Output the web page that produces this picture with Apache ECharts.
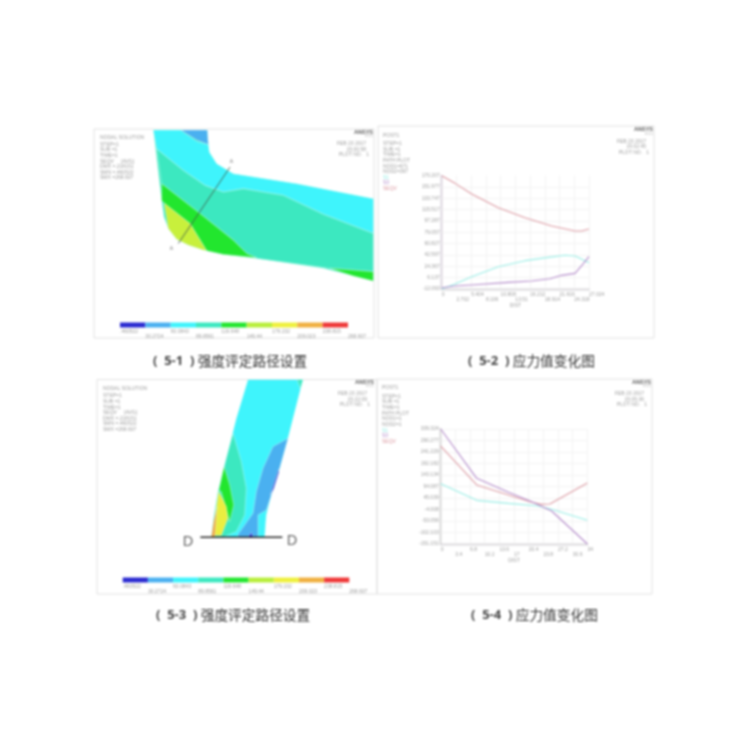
<!DOCTYPE html>
<html><head><meta charset="utf-8">
<style>html,body{margin:0;background:#fff}#c{width:750px;height:750px;filter:blur(0.85px)}</style>
<script src="https://cdn.jsdelivr.net/npm/echarts@6/dist/echarts.min.js"></script>
</head><body><div id="c"></div>
<script>
// ---------- colour scale ----------
const scaleColors = ['#2a2ad0','#4ab0f0','#3ff4fc','#3ce8c0','#22e62e','#b8ee3c','#eef03e','#f0b040','#ee3838'];
const scaleTicks = [0.460522,30.2724,60.0843,89.8561,119.648,149.44,179.232,209.023,238.815,268.607];
const scaleLabels = ['.460522','30.2724','60.0843','89.8561','119.648','149.44','179.232','209.023','238.815','268.607'];

// ---------- contour model 1 (model units) ----------
const m1Outline = [[190,28],[352,28],[355,72],[358,95],[380,130],[430,160],[620,190],[850,235],[850,483],[700,445],[500,415],[400,403],[340,390],[295,375],[260,357],[235,325],[222,290],[215,240]];
const m1Cyan = [[190,28],[272,28],[320,62],[355,72],[358,95],[380,130],[430,160],[620,190],[850,235],[850,340],[700,282],[580,225],[460,205],[400,215],[345,195],[280,150],[200,85]];
const m1Blue = [[272,28],[352,28],[355,72],[320,58]];
const m1Aqua = [[200,85],[280,150],[345,195],[400,215],[460,205],[580,225],[700,282],[850,340],[850,455],[720,445],[500,415],[470,400],[430,360],[330,280],[215,190]];
const m1Green = [[215,190],[330,280],[430,360],[470,400],[500,413],[400,403],[350,392],[300,310],[222,248],[215,240]];
const m1Green2 = [[720,445],[850,455],[850,483],[790,468]];
const m1Lime = [[222,248],[300,310],[350,392],[340,390],[295,375],[260,357],[235,325]];

// ---------- contour model 3 (model units) ----------
const m3Outline = [[475,14],[640,14],[595,190],[570,280],[545,360],[530,420],[525,487],[365,487],[372,430],[385,350],[410,250],[440,130]];
const m3Aqua = [[430,175],[455,260],[470,340],[465,420],[440,470],[400,487],[365,487],[372,430],[385,350],[410,250]];
const m3AquaTop = [[622,14],[640,14],[632,42]];
const m3Green = [[403,275],[420,330],[432,390],[420,440],[410,405],[395,350],[388,345]];
const m3Yellow = [[387,348],[410,395],[415,430],[395,482],[372,482],[378,410]];
const m3Orange = [[365,487],[372,440],[382,395],[378,450],[375,487]];
const m3Blue = [[595,190],[550,215],[520,280],[500,350],[490,415],[445,478],[445,487],[505,487],[505,420],[530,405],[545,360],[570,280]];
const m3DarkBlue = [[568,282],[555,320],[542,360],[552,342],[568,292]];
const m3DarkBlue2 = [[476,487],[485,472],[490,487]];

// ---------- path plot 5-2 ----------
const p2XTicks = [0,2.7024,5.4048,8.1072,10.8096,13.512,16.2144,18.9168,21.6192,24.3216,27.024];
const p2XLabels = ['0','2.702','5.404','8.106','10.808','13.51','16.212','18.914','21.616','24.318','27.024'];
const p2YTicks = [-12.093,6.137,24.367,42.597,60.827,79.057,97.287,115.517,133.747,151.977,170.207];
const p2Seqv = [[0,170.2],[2.45,157.9],[5.5,140.7],[10.39,118.7],[15.29,102.6],[20.18,89.2],[24.46,81.2],[25.68,81.2],[27.02,84.4]];
const p2S1 = [[0,-12.1],[2.45,-4],[5.5,7.7],[10.39,23.8],[15.29,33.5],[19.57,38.8],[22.62,42.1],[24.46,41],[25.99,34.5],[27.02,30.3]];
const p2S3 = [[0,-10],[2.45,-7.3],[6.11,-5.2],[12.23,-1.4],[16.5,0.8],[19.87,4.5],[22,9.9],[24.46,13.1],[25.68,25.4],[27.02,39.9]];

// ---------- path plot 5-4 ----------
const p4XTicks = [0,3.4,6.8,10.2,13.6,17,20.4,23.8,27.2,30.6,34];
const p4XLabels = ['0','3.4','6.8','10.2','13.6','17','20.4','23.8','27.2','30.6','34'];
const p4YTicks = [-151.151,-102.103,-53.056,-4.008,45.039,94.087,143.134,192.182,241.229,290.277,339.324];
const p4Seqv = [[0,266.8],[8.35,100.5],[15.7,57.9],[21.1,26.6],[23.4,17.9],[25.3,19.3],[34,108.9]];
const p4S1 = [[0,106.2],[8.35,35.1],[15.7,22.3],[22.6,10.9],[25.7,-3.2],[34,-50.2]];
const p4S3 = [[0,339.3],[8.35,129],[15.7,69.2],[21.1,29.4],[25.7,-10.4],[34,-151.15]];

// ---------- section line marks ----------
const lineAA = [[420,140],[265,370]];
const lineDD = [[332,487],[578,487]];

// ---------- texts ----------
const captions = ['5-1','5-2','5-3','5-4'];
const capTail = ['强度评定路径设置','应力值变化图','强度评定路径设置','应力值变化图'];
const infoContour = ['STEP=1','SUB =1','TIME=1','SEQV     (AVG)','DMX =.218151','SMN =.460522','SMX =268.607'];
const infoPath2 = ['STEP=1','SUB =1','TIME=1','PATH PLOT','NOD1=671','NOD2=397'];
const infoPath4 = ['STEP=1','SUB =1','TIME=1','PATH PLOT','NOD1=1','NOD2=1'];

const C = {cyan:'#9aeee6',purple:'#b48cca',red:'#dc9ca4',text:'#a0a0a0',frame:'#e2e2e2',grid:'#efefef'};
const FONT = 'Liberation Sans';

function polySeries(name, pts, color, g){
  return {type:'custom',name,xAxisIndex:g,yAxisIndex:g,silent:true,clip:true,
    data:[0],
    renderItem:(p,api)=>({type:'polygon',shape:{points:pts.map(q=>api.coord(q))},
      style:{fill:color,stroke:'rgba(235,255,250,.55)',lineWidth:.7}})};
}
function barSeries(g){
  return {type:'custom',xAxisIndex:g,yAxisIndex:g,silent:true,
    data:scaleColors.map((c,i)=>[scaleTicks[i],scaleTicks[i+1],i]),
    renderItem:(p,api)=>{
      const a=api.coord([api.value(0),1]),b=api.coord([api.value(1),0]);
      return {type:'rect',shape:{x:a[0],y:a[1],width:b[0]-a[0],height:b[1]-a[1]},style:{fill:scaleColors[api.value(2)]}};
    }};
}
function lineS(data,color,g,w,name){
  return {type:'line',name,xAxisIndex:g,yAxisIndex:g,data,symbol:'none',silent:true,
    lineStyle:{color,width:w},z:4};
}
function gridMarks(data,g,xT,yT){
  return {type:'line',xAxisIndex:g,yAxisIndex:g,data:[],symbol:'none',silent:true,z:1,
    markLine:{silent:true,symbol:'none',z:1,label:{show:false},animation:false,
      lineStyle:{color:C.grid,width:.7,type:'solid'},
      data:[...xT.map(v=>({xAxis:v})),...yT.map(v=>({yAxis:v}))]}};
}

const grids=[], xAxes=[], yAxes=[], series=[], xAxesExtra=[];
function contourGrid(b,xr,yr){
  grids.push({left:b[0],top:b[1],width:b[2],height:b[3],show:true,borderColor:C.frame,borderWidth:1,backgroundColor:'#fff'});
  xAxes.push({type:'value',min:xr[0],max:xr[1],show:false,gridIndex:grids.length-1});
  yAxes.push({type:'value',min:yr[0],max:yr[1],inverse:true,show:false,gridIndex:grids.length-1});
  return grids.length-1;
}
function colorbarGrid(b){
  grids.push({left:b[0],top:b[1],width:b[2],height:b[3]});
  const g=grids.length-1;
  xAxes.push({type:'value',gridIndex:g,min:scaleTicks[0],max:scaleTicks[9],
    axisLine:{show:false},axisTick:{show:false},splitLine:{show:false},
    axisLabel:{show:true,customValues:scaleTicks,align:'left',margin:2,fontSize:5,color:C.text,fontFamily:FONT,lineHeight:4.5,
      hideOverlap:false,showMinLabel:true,showMaxLabel:true,formatter:(v)=>{const i=scaleTicks.indexOf(v);return (i%2?'\n':'')+scaleLabels[i];}}});
  yAxes.push({type:'value',gridIndex:g,min:0,max:1,show:false});
  series.push(barSeries(g));
}
function plotGrid(b,xMax,xT,xL,yT,axisCol){
  grids.push({left:b[0],top:b[1],width:b[2],height:b[3]});
  const g=grids.length-1;
  const lab=(idxMod,margin)=>({show:true,customValues:xT.filter((v,i)=>i%2===idxMod),align:'left',margin,fontSize:5,color:C.text,fontFamily:FONT,
    hideOverlap:false,showMinLabel:true,showMaxLabel:true,formatter:(v)=>xL[xT.indexOf(v)]});
  xAxes.push({type:'value',gridIndex:g,position:'bottom',min:0,max:xMax,
    axisLine:{show:true,onZero:false,lineStyle:{color:'#b4b0b8',width:1.4}},axisTick:{show:false},splitLine:{show:false},
    axisLabel:lab(0,3),
    name:'DIST',nameLocation:'middle',nameGap:14,nameTextStyle:{fontSize:5,color:C.text,fontFamily:FONT}});
  xAxesExtra.push({type:'value',gridIndex:g,position:'bottom',min:0,max:xMax,
    axisLine:{show:false},axisTick:{show:false},splitLine:{show:false},axisLabel:lab(1,8)});
  yAxes.push({type:'value',gridIndex:g,min:yT[0],max:yT[10],
    axisLine:{show:true,onZero:false,lineStyle:{color:axisCol,width:1.4}},axisTick:{show:false},splitLine:{show:false},
    axisLabel:{show:true,customValues:yT,margin:2,fontSize:5,color:C.text,fontFamily:FONT,hideOverlap:false,showMinLabel:true,showMaxLabel:true}});
  series.push(gridMarks([],g,xT,yT));
  return g;
}

// Panel 5-1
const g1=contourGrid([94,129,280,209],[12,852],[25,655]);
series.push(polySeries('outline',m1Outline,scaleColors[3],g1),polySeries('cyan',m1Cyan,scaleColors[2],g1),
  polySeries('blue',m1Blue,scaleColors[1],g1),polySeries('aqua',m1Aqua,scaleColors[3],g1),
  polySeries('green',m1Green,scaleColors[4],g1),polySeries('green2',m1Green2,scaleColors[4],g1),
  polySeries('lime',m1Lime,'#c8f03c',g1),
  {type:'line',xAxisIndex:g1,yAxisIndex:g1,data:lineAA,symbol:'none',silent:true,lineStyle:{color:'#3e5a48',width:0.9},z:5});
colorbarGrid([120,322.5,228,5]);

// Panel 5-3
const g3=contourGrid([97,379.5,280,214.5],[22,862],[14,657]);
series.push(polySeries('outline3',m3Outline,scaleColors[2],g3),polySeries('aqua3',m3Aqua,scaleColors[3],g3),
  polySeries('aqua3t',m3AquaTop,scaleColors[3],g3),polySeries('green3',m3Green,scaleColors[4],g3),
  polySeries('yellow3',m3Yellow,'#eaee40',g3),polySeries('orange3',m3Orange,'#f0a040',g3),
  polySeries('blue3',m3Blue,scaleColors[1],g3),polySeries('dark3',m3DarkBlue,scaleColors[0],g3),
  polySeries('dark3b',m3DarkBlue2,scaleColors[0],g3),
  {type:'line',xAxisIndex:g3,yAxisIndex:g3,data:lineDD,symbol:'none',silent:true,lineStyle:{color:'#222',width:1.5},z:5});
colorbarGrid([122.7,577.5,226.6,5]);

// Panel 5-2
const g2=plotGrid([441.7,175.7,147.3,113.3],27.024,p2XTicks,p2XLabels,p2YTicks,'#a898b4');
series.push(lineS(p2Seqv,C.red,g2,1.1,'SEQV'),lineS(p2S1,C.cyan,g2,1.1,'S1'),lineS(p2S3,C.purple,g2,1.1,'S3'));

// Panel 5-4
const g4=plotGrid([440.7,429,146.7,115],34,p4XTicks,p4XLabels,p4YTicks,'#a0a0a0');
series.push(lineS(p4Seqv,C.red,g4,1.1,'SEQV'),lineS(p4S1,C.cyan,g4,1.1,'S1'),lineS(p4S3,C.purple,g4,1.1,'S3'));

// ---------- annotation text ----------
const T=(x,y,text,o)=>({type:'text',x,y,z:10,silent:true,style:Object.assign({text,fontSize:5,fill:C.text,fontFamily:FONT,textAlign:'left',textVerticalAlign:'middle'},o||{})});
const gfx=[];
function block(x,y0,dy,lines,o){lines.forEach((l,i)=>gfx.push(T(x,y0+i*dy,l,o)));}
function stamp(rx,yAnsys,date,time,plot){
  gfx.push(T(rx,yAnsys,'ANSYS',{textAlign:'right',fontWeight:'bold',fontSize:5.5,fill:'#5c5c5c'}));
  gfx.push(T(rx,yAnsys+4.5,'R15.0',{textAlign:'right',fontSize:3,fill:'#bbb'}));
  gfx.push(T(rx-7,yAnsys+12,date,{textAlign:'right'}));
  gfx.push(T(rx-7,yAnsys+17.5,time,{textAlign:'right'}));
  gfx.push(T(rx-4,yAnsys+23,plot,{textAlign:'right'}));
}
// frames of the two path plots
[[378,126,276,212],[377,379,275,215]].forEach(r=>gfx.push({type:'rect',z:0,silent:true,shape:{x:r[0],y:r[1],width:r[2],height:r[3]},style:{fill:'none',stroke:C.frame,lineWidth:1}}));

gfx.push(T(100,138,'NODAL SOLUTION'));block(100,144.5,5.6,infoContour);stamp(373,132,'FEB 23 2017','15:00:58','PLOT NO.   1');
gfx.push(T(103,388.5,'NODAL SOLUTION'));block(103,396,5.6,infoContour);stamp(374,382,'FEB 23 2017','15:22:09','PLOT NO.   1');
gfx.push(T(383,136,'POST1'));block(383,144,5.55,infoPath2);
block(383,177.3,5.55,['S1'],{fill:C.cyan});block(383,182.8,5.55,['S3'],{fill:C.purple});block(383,188.3,5.55,['SEQV'],{fill:C.red});
stamp(653,129.5,'FEB 23 2017','15:02:45','PLOT NO.   1');
gfx.push(T(382,388,'POST1'));block(382,396.5,5.6,infoPath4);
block(382,430.5,5.6,['S1'],{fill:C.cyan});block(382,436,5.6,['S3'],{fill:C.purple});block(382,441.7,5.6,['SEQV'],{fill:C.red});
stamp(651,382,'FEB 23 2017','15:05:36','PLOT NO.   1');

// section labels
gfx.push(T(231.5,162,'A',{textAlign:'center',fontSize:5,fill:'#777'}));
gfx.push(T(171.5,249,'A',{textAlign:'center',fontSize:5,fill:'#777'}));
gfx.push(T(188,542,'D',{textAlign:'center',fontSize:15,fill:'#666',fontFamily:'Noto Sans'}));
gfx.push(T(292,541,'D',{textAlign:'center',fontSize:15,fill:'#666',fontFamily:'Noto Sans'}));

// captions
const capPos=[[153,361],[468,361],[156,615],[471,615]];
capPos.forEach((p,i)=>{
  gfx.push({type:'text',x:p[0],y:p[1],z:10,silent:true,style:{
    rich:{b:{fontSize:13,fontWeight:'bold',fill:'#444',fontFamily:'Noto Sans'},
          t:{fontSize:13.7,fill:'#333',fontFamily:'Noto Sans CJK SC'}},
    text:'{b|(  '+captions[i]+'  ) }{t|'+capTail[i]+'}',textVerticalAlign:'middle',textAlign:'left'}});
});

const chart=echarts.init(document.getElementById('c'),null,{renderer:'canvas'});
chart.setOption({animation:false,backgroundColor:'#fff',tooltip:{show:false},
  grid:grids,xAxis:xAxes.concat(xAxesExtra),yAxis:yAxes,series,graphic:{elements:gfx}});
</script></body></html>
